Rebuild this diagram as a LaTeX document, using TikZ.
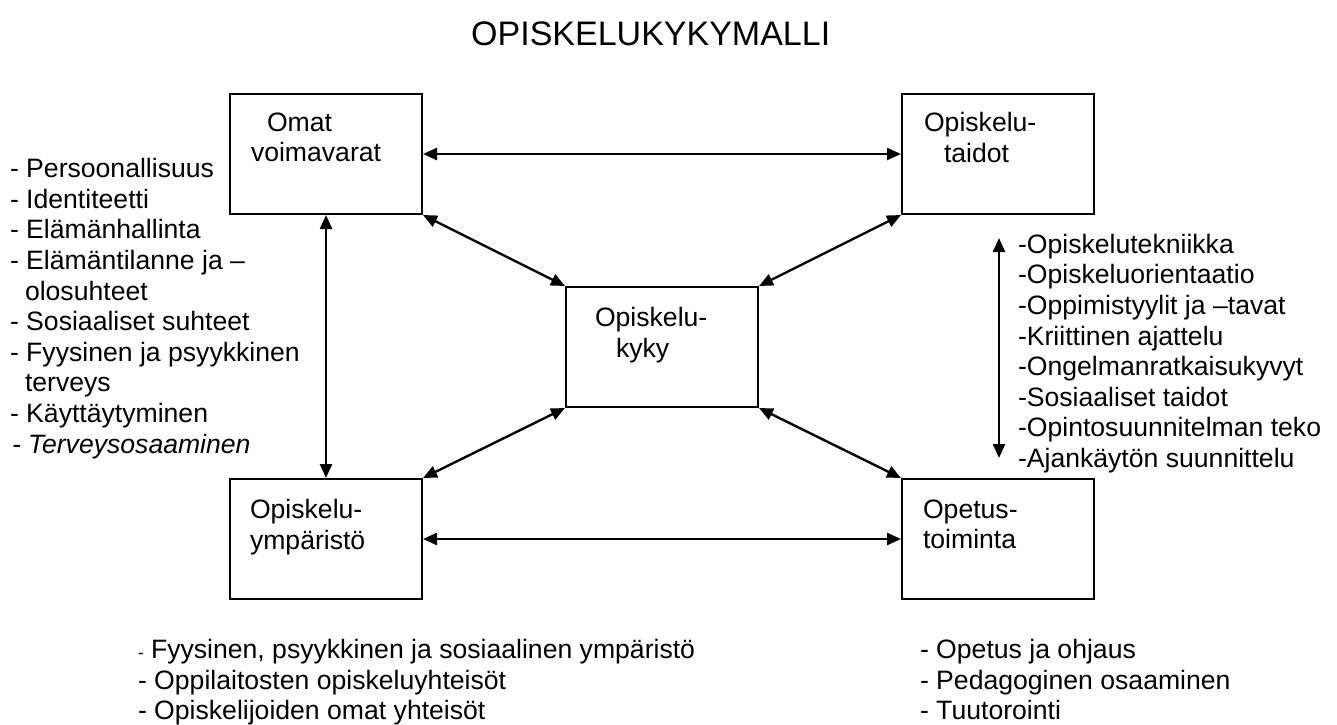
\documentclass[tikz,border=0pt]{standalone}
\usepackage{fontspec}
\setmainfont{Liberation Sans}
\usetikzlibrary{arrows.meta,calc}
\begin{document}
\begin{tikzpicture}[x=1pt,y=-1pt,
  box/.style={draw, line width=2pt, minimum width=192pt, minimum height=120pt, inner sep=0pt},
  txt/.style={anchor=north west, inner sep=0pt, outer sep=0pt, align=left, font=\fontsize{26.6}{30.6}\selectfont},
  ttl/.style={anchor=base west, inner sep=0pt, font=\fontsize{34}{38}\selectfont},
  link/.style={line width=2.4pt, {Triangle[length=14pt,width=12pt]}-{Triangle[length=14pt,width=12pt]}},
]
\useasboundingbox (0,0) rectangle (1337,724);

\node[ttl] (title) at (471,45) {OPISKELUKYKYMALLI};

% boxes
\node[box] (tl) at (326,154) {};
\node[box] (tr) at (998,154) {};
\node[box] (c)  at (662,347) {};
\node[box] (bl) at (326,539) {};
\node[box] (br) at (998,539) {};

% box labels
\node[txt] (tlt) at (251,112.5) {\hspace*{16pt}Omat\\voimavarat};
\node[txt] (trt) at (924,112.5) {Opiskelu-\\\hspace*{20pt}taidot};
\node[txt] (ct)  at (595,307.5) {Opiskelu-\\\hspace*{21pt}kyky};
\node[txt] (blt) at (250,499.5) {Opiskelu-\\ympäristö};
\node[txt] (brt) at (923,499.5) {Opetus-\\toiminta};

% lists
\node[txt] (leftlist) at (10,158.5) {- Persoonallisuus\\
- Identiteetti\\
- Elämänhallinta\\
- Elämäntilanne ja –\\
\hspace*{15pt}olosuhteet\\
- Sosiaaliset suhteet\\
- Fyysinen ja psyykkinen\\
\hspace*{15pt}terveys\\
- Käyttäytyminen\\
\hspace*{2pt}\textit{- Terveysosaaminen}};

\node[txt] (rightlist) at (1018,234) {-Opiskelutekniikka\\
-Opiskeluorientaatio\\
-Oppimistyylit ja –tavat\\
-Kriittinen ajattelu\\
-Ongelmanratkaisukyvyt\\
-Sosiaaliset taidot\\
-Opintosuunnitelman teko\\
-Ajankäytön suunnittelu};

\node[txt] (bllist) at (138,639.5) {{\fontsize{17}{17}\selectfont -} Fyysinen, psyykkinen ja sosiaalinen ympäristö\\
- Oppilaitosten opiskeluyhteisöt\\
- Opiskelijoiden omat yhteisöt};

\node[txt] (brlist) at (920,639.5) {- Opetus ja ohjaus\\
- Pedagoginen osaaminen\\
- Tuutorointi};

% connectors
\coordinate (ra1) at (999,238);
\coordinate (ra2) at (999,458);
\draw[link] (tl.east) -- (tr.west);
\draw[link] (bl.east) -- (br.west);
\draw[link] (tl.south) -- (bl.north);
\draw[link] (tl.south east) -- (c.north west);
\draw[link] (tr.south west) -- (c.north east);
\draw[link] (c.south west) -- (bl.north east);
\draw[link] (c.south east) -- (br.north west);
\draw[link] (ra1) -- (ra2);
\end{tikzpicture}
\end{document}
